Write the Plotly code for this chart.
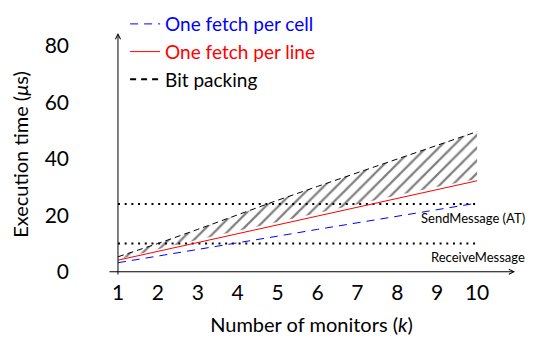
import plotly.graph_objects as go

monitors = [1, 2, 3, 4, 5, 6, 7, 8, 9, 10]
fetch_per_cell = [3.2, 5.5, 7.9, 10.3, 12.6, 15.0, 17.3, 19.6, 22.0, 24.3]
fetch_per_line = [4.1, 7.2, 10.3, 13.5, 16.6, 19.7, 22.8, 25.9, 29.1, 32.2]
bit_packing_low = [4.3, 8.0, 11.3, 14.5, 17.6, 20.8, 24.0, 27.1, 30.1, 32.8]
bit_packing_high = [5.3, 10.0, 15.0, 20.2, 25.3, 30.2, 35.0, 39.8, 44.7, 49.6]
ref_x = [1, 10]
send_message_at = 24
receive_message = 10
y_ticks = [0, 20, 40, 60, 80]

FONT = "Lato"

fig = go.Figure()

# hatched bit-packing band
fig.add_trace(go.Scatter(x=monitors, y=bit_packing_low, mode="lines",
                         line=dict(width=0, color="black"), showlegend=False,
                         hoverinfo="skip"))
fig.add_trace(go.Scatter(x=monitors, y=bit_packing_high, mode="lines",
                         line=dict(width=1, color="black", dash="6px,4px"),
                         fill="tonexty", fillcolor="rgba(0,0,0,0)",
                         fillpattern=dict(shape="/", fgcolor="black", bgcolor="white",
                                          size=9, solidity=0.25),
                         showlegend=False))

# reference lines
fig.add_trace(go.Scatter(x=ref_x, y=[send_message_at] * 2, mode="lines",
                         line=dict(width=2, color="black", dash="2px,4.7px"),
                         showlegend=False))
fig.add_trace(go.Scatter(x=ref_x, y=[receive_message] * 2, mode="lines",
                         line=dict(width=2, color="black", dash="2px,4.7px"),
                         showlegend=False))

fig.add_trace(go.Scatter(x=monitors, y=fetch_per_cell, mode="lines",
                         line=dict(width=1, color="blue", dash="8px,6px"),
                         name='<span style="color:blue">One fetch per cell</span>'))
fig.add_trace(go.Scatter(x=monitors, y=fetch_per_line, mode="lines",
                         line=dict(width=1, color="red"),
                         name='<span style="color:red">One fetch per line</span>'))
fig.add_trace(go.Scatter(x=[None], y=[None], mode="lines",
                         line=dict(width=2, color="black", dash="6px,5px"),
                         name="Bit packing"))

# axes with arrows
fig.add_annotation(x=10.95, y=0, ax=0.75, ay=0, xref="x", yref="y", axref="x", ayref="y",
                   text="", showarrow=True, arrowhead=5, arrowsize=1, arrowwidth=1,
                   arrowcolor="black")
fig.add_annotation(x=1, y=84.5, ax=1, ay=-1.5, xref="x", yref="y", axref="x", ayref="y",
                   text="", showarrow=True, arrowhead=5, arrowsize=1, arrowwidth=1,
                   arrowcolor="black")

fig.add_annotation(x=1.03, y=19.0, xref="paper", yref="y", text="SendMessage (AT)",
                   showarrow=False, xanchor="right", font=dict(size=13, family=FONT, color="black"))
fig.add_annotation(x=1.03, y=5.2, xref="paper", yref="y", text="ReceiveMessage",
                   showarrow=False, xanchor="right", font=dict(size=13, family=FONT, color="black"))

fig.update_layout(
    width=528, height=331,
    margin=dict(l=100, r=21, t=25, b=63, autoexpand=False),
    paper_bgcolor="white", plot_bgcolor="white",
    font=dict(family=FONT, size=21, color="black"),
    legend=dict(x=0.042, y=1.115, xanchor="left", yanchor="top", traceorder="normal",
                bgcolor="rgba(0,0,0,0)", font=dict(size=19), itemwidth=30,
                tracegroupgap=0),
    xaxis=dict(range=[0.75, 10.95], tickvals=monitors, showgrid=False, zeroline=False,
               showline=False, ticks="", ticklabelstandoff=2, automargin=False,
               title=dict(text="Number of monitors (<i>k</i>)", standoff=14,
                          font=dict(size=20))),
    yaxis=dict(range=[-1.5, 84.5], tickvals=y_ticks, showgrid=False, zeroline=False,
               showline=False, ticks="", ticklabelstandoff=38, automargin=False,
               title=dict(text="Execution time (<i>μ</i>s)", standoff=10,
                          font=dict(size=20))),
)

fig.write_html("out.html")
